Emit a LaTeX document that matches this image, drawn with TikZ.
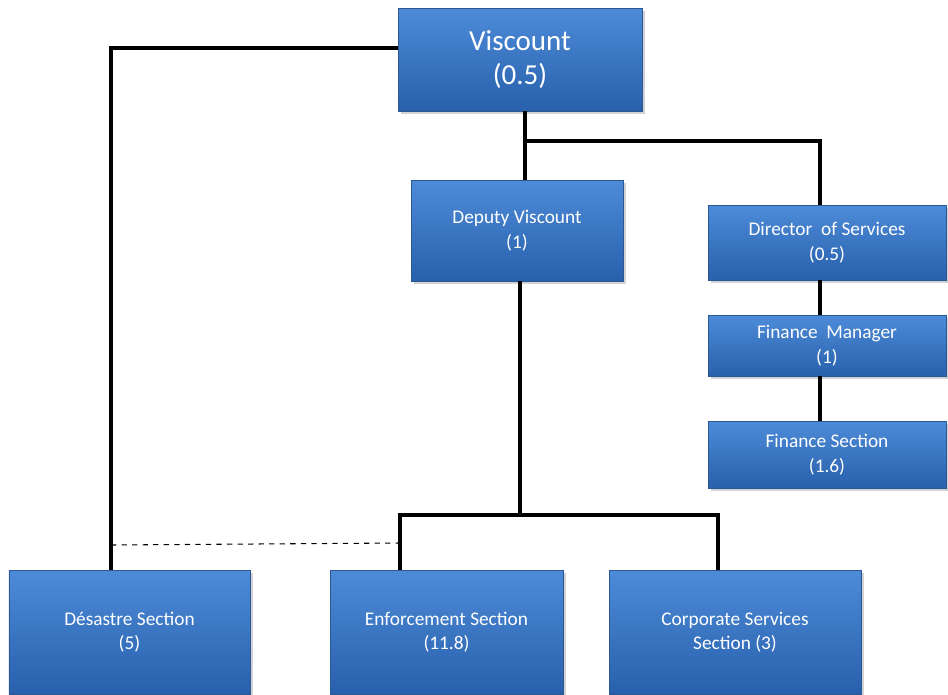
\documentclass[tikz,border=0pt]{standalone}
\usepackage{fontspec}
\setmainfont{Carlito}
\usetikzlibrary{shadows}
\definecolor{boxtop}{HTML}{4D8BD8}
\definecolor{boxbot}{HTML}{2860AC}
\definecolor{boxedge}{HTML}{2B5894}
\begin{document}
\begin{tikzpicture}[
    box/.style={draw=boxedge, line width=0.4pt, top color=boxtop, bottom color=boxbot,
      text=white, align=center, font=\fontsize{11}{14}\selectfont,
      drop shadow={opacity=0.35, shadow xshift=0.6mm, shadow yshift=-0.6mm}},
    link/.style={line width=2.1pt},
  ]
    \useasboundingbox (0,0) rectangle (18.96,-13.88);
    % cabeça da organização
    \node[box, minimum width=4.88cm, minimum height=2.06cm, font=\fontsize{16.5}{19}\selectfont]
      (visc) at (10.40,-1.19) {Viscount\\(0.5)};
    % segundo nível
    \node[box, minimum width=4.24cm, minimum height=2.02cm]
      (dep) at (10.34,-4.61) {Deputy Viscount\\(1)};
    \node[box, minimum width=4.76cm, minimum height=1.50cm]
      (dir) at (16.54,-4.85) {Director\ \ of Services\\(0.5)};
    % ramo das finanças
    \node[box, minimum width=4.76cm, minimum height=1.22cm]
      (fman) at (16.54,-6.91) {Finance\ \ Manager\\(1)};
    \node[box, minimum width=4.76cm, minimum height=1.34cm]
      (fsec) at (16.54,-9.09) {Finance Section\\(1.6)};
    % secções na base
    \node[box, minimum width=4.82cm, minimum height=2.48cm]
      (des) at (2.59,-12.64) {Désastre Section\\(5)};
    \node[box, minimum width=4.66cm, minimum height=2.48cm]
      (enf) at (8.93,-12.64) {Enforcement Section\\(11.8)};
    \node[box, minimum width=5.04cm, minimum height=2.48cm]
      (corp) at (14.70,-12.64) {Corporate Services\\Section (3)};
    % pontos de junção das linhas
    \coordinate (jdes) at (2.22,-0.96);
    \coordinate (jvis) at (10.50,-2.82);
    \coordinate (jdir) at (16.40,-2.82);
    \coordinate (jdep) at (10.40,-10.30);
    \coordinate (jenf) at (8.00,-10.30);
    \coordinate (jcorp) at (14.36,-10.30);
    \coordinate (dleft) at (2.22,-10.90);
    \coordinate (dright) at (8.00,-10.86);
    % ligações hierárquicas
    \draw[link] (visc.west |- jdes) -- (jdes) -- (des.north -| jdes);
    \draw[link] (visc.south -| jvis) -- (dep.north -| jvis);
    \draw[link] (jvis) -- (jdir) -- (dir.north -| jdir);
    \draw[link] (dir.south -| jdir) -- (fman.north -| jdir);
    \draw[link] (fman.south -| jdir) -- (fsec.north -| jdir);
    \draw[link] (dep.south -| jdep) -- (jdep);
    \draw[link] (enf.north -| jenf) -- (jenf) -- (jcorp) -- (corp.north -| jcorp);
    % ligação informal
    \draw[dashed, line width=0.6pt] (dleft) -- (dright);
  \end{tikzpicture}
\end{document}
